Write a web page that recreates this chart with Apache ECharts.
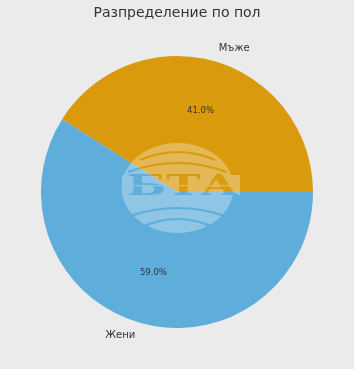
<!DOCTYPE html>
<html><head><meta charset="utf-8">
<script src="https://cdn.jsdelivr.net/npm/echarts@6/dist/echarts.min.js"></script>
<style>html,body{margin:0;padding:0;background:#ebebeb}#c{width:354px;height:369px}</style>
</head><body><div id="c"></div>
<script>
const categories = ['Мъже', 'Жени'];
const values = [41.0, 59.0];
const colors = ['#D99A0D', '#5EADDA'];
const title = 'Разпределение по пол';

// watermark (BTA logo), drawn as a masked SVG image
const wmSvg = '<svg xmlns="http://www.w3.org/2000/svg" width="134" height="110">' +
  '<defs><mask id="m" maskUnits="userSpaceOnUse" x="0" y="0" width="134" height="110">' +
  '<rect x="0" y="0" width="134" height="110" fill="white"/>' +
  '<g fill="none" stroke="black" stroke-width="2">' +
  '<path d="M 28 29 Q 65.5 13 103 29"/>' +
  '<path d="M 16 41 Q 65.5 23 115 41"/>' +
  '<path d="M 18 85 Q 65.5 69 113 85"/>' +
  '<path d="M 30 96 Q 65.5 80 101 96"/>' +
  '</g>' +
  '<text x="15" y="64" textLength="111" lengthAdjust="spacingAndGlyphs" font-family="DejaVu Serif" font-weight="bold" font-size="27" fill="#111">БТА</text>' +
  '<rect x="0" y="54" width="134" height="1.2" fill="white"/>' +
  '</mask></defs>' +
  '<g opacity="0.3" mask="url(#m)">' +
  '<ellipse cx="65.5" cy="57" rx="56" ry="45" fill="white"/>' +
  '<rect x="10" y="44" width="118" height="20" fill="white"/>' +
  '</g></svg>';
const wmUrl = 'data:image/svg+xml;charset=utf-8,' + encodeURIComponent(wmSvg);

const chart = echarts.init(document.getElementById('c'), null, {renderer: 'canvas'});
const R = 136;
const center = [177, 192];
const mainData = categories.map((c, i) => ({name: c, value: values[i], itemStyle: {color: colors[i]}}));
const ghostData = categories.map((c, i) => ({name: c, value: values[i]}));
chart.setOption({
  backgroundColor: '#ebebeb',
  animation: false,
  title: {text: title, left: 'center', top: 1, textStyle: {fontFamily: 'DejaVu Sans', fontSize: 14, fontWeight: 'normal', color: '#333'}},
  graphic: [
    {type: 'image', z: 100, silent: true, x: 112, y: 131, style: {image: wmUrl, width: 134, height: 110}}
  ],
  series: [
    {
      type: 'pie', center: center, radius: [0, R], startAngle: 0, clockwise: false,
      avoidLabelOverlap: false, silent: true, emphasis: {disabled: true},
      data: mainData,
      label: {position: 'outside', formatter: '{b}', fontFamily: 'DejaVu Sans', fontSize: 10, color: '#333', distanceToLabelLine: 0},
      labelLine: {show: false, length: R * 0.1, length2: 0}
    },
    {
      type: 'pie', center: center, radius: [0, R * 1.2], startAngle: 0, clockwise: false,
      avoidLabelOverlap: false, silent: true, emphasis: {disabled: true},
      data: ghostData,
      itemStyle: {color: 'rgba(0,0,0,0)'},
      label: {position: 'inside', formatter: (p) => p.value.toFixed(1) + '%', fontFamily: 'DejaVu Sans', fontSize: 8.5, color: '#333'}
    }
  ]
});
</script></body></html>
